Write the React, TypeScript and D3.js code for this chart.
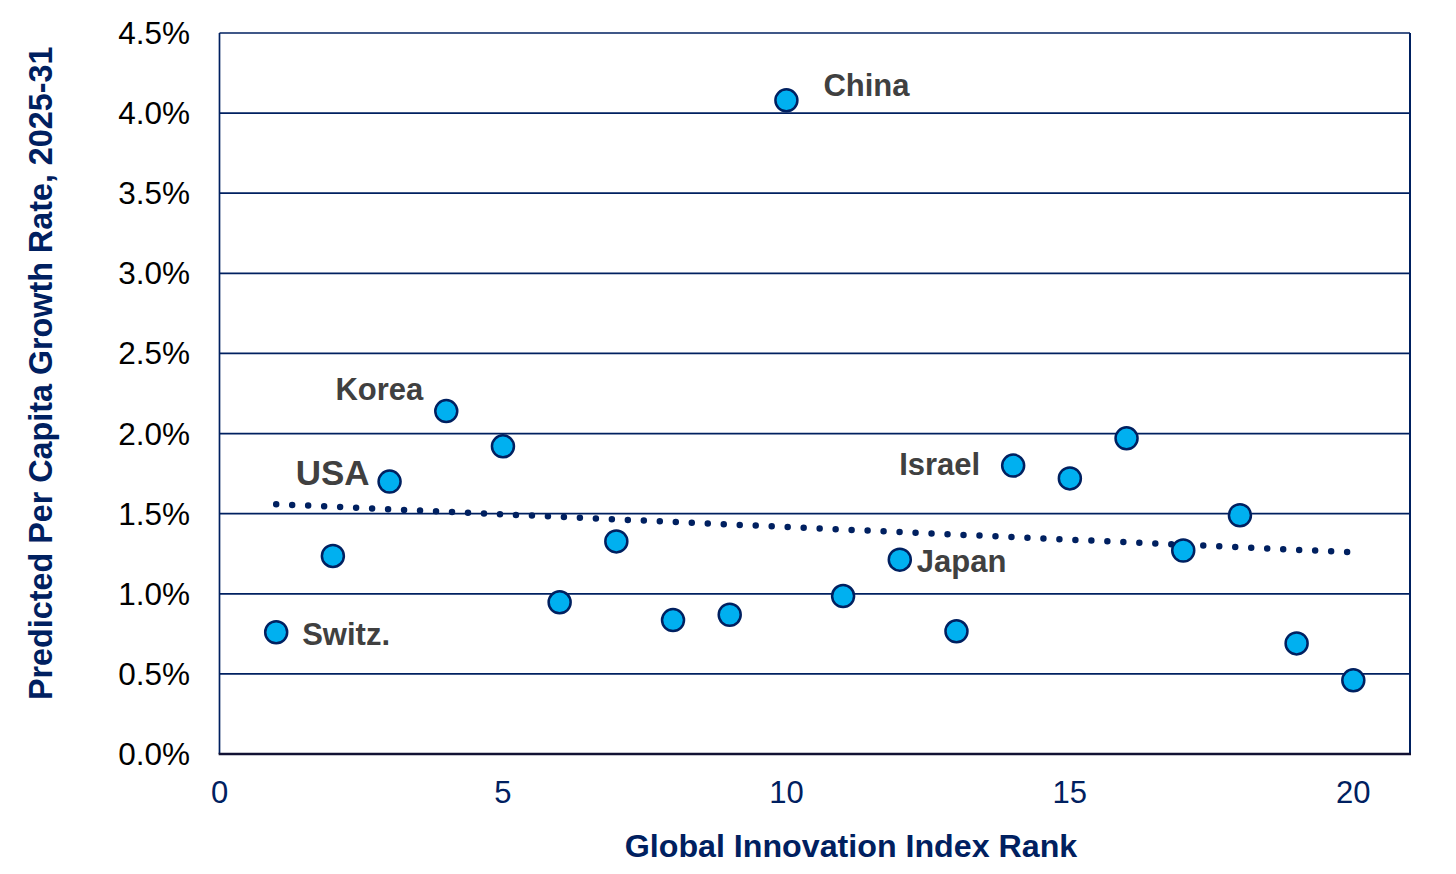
import { useEffect, useRef } from "react";
import * as d3 from "d3";

// GII rank (x) vs predicted per-capita growth, %
const ranks = [1, 2, 3, 4, 5, 6, 7, 8, 9, 10, 11, 12, 13, 14, 15, 16, 17, 18, 19, 20];
const growth = [0.76, 1.236, 1.70, 2.14, 1.92, 0.947, 1.327, 0.836, 0.869, 4.08, 0.986, 1.213, 0.766, 1.80, 1.72, 1.97, 1.27, 1.49, 0.69, 0.46];

const labelRanks = [1, 3, 4, 10, 12, 14];
const labelNames = ["Switz.", "USA", "Korea", "China", "Japan", "Israel"];

const yTicks = [0, 0.5, 1, 1.5, 2, 2.5, 3, 3.5, 4, 4.5];
const xTicks = [0, 5, 10, 15, 20];

const NAVY = "#002060";
const FILL = "#00B0F0";
const LABEL = "#404040";
const FONT = "Arial, 'Liberation Sans', sans-serif";

export default function App() {
  const svgRef = useRef<SVGSVGElement>(null);

  useEffect(() => {
    document.body.style.margin = "0";
    if (!svgRef.current) return;

    const width = 1456;
    const height = 874;
    const left = 219.5;
    const right = 1410;
    const top = 33;
    const bottom = 754;

    const svg = d3.select(svgRef.current);
    svg.selectAll("*").remove();

    const x = d3.scaleLinear().domain([0, 21]).range([left, right]);
    const y = d3.scaleLinear().domain([0, 4.5]).range([bottom, top]);

    svg.append("rect").attr("width", width).attr("height", height).attr("fill", "#fff");

    // gridlines
    svg.append("g")
      .selectAll("line")
      .data(yTicks.filter((t) => t > 0))
      .join("line")
      .attr("x1", left)
      .attr("x2", right)
      .attr("y1", (d) => y(d))
      .attr("y2", (d) => y(d))
      .attr("stroke", NAVY)
      .attr("stroke-width", 1.7);

    // left + right frame
    svg.append("line").attr("x1", left).attr("x2", left).attr("y1", top).attr("y2", bottom)
      .attr("stroke", NAVY).attr("stroke-width", 1.7);
    svg.append("line").attr("x1", right).attr("x2", right).attr("y1", top).attr("y2", bottom)
      .attr("stroke", NAVY).attr("stroke-width", 2);
    // x axis baseline
    svg.append("line").attr("x1", left - 0.85).attr("x2", right + 1).attr("y1", bottom).attr("y2", bottom)
      .attr("stroke", "#111133").attr("stroke-width", 2.5);

    // y tick labels
    svg.append("g")
      .selectAll("text")
      .data(yTicks)
      .join("text")
      .attr("x", 190)
      .attr("y", (d) => y(d))
      .attr("dy", "0.35em")
      .attr("text-anchor", "end")
      .attr("font-family", FONT)
      .attr("font-size", 31.5)
      .attr("fill", "#000")
      .text((d) => `${d.toFixed(1)}%`);

    // x tick labels
    svg.append("g")
      .selectAll("text")
      .data(xTicks)
      .join("text")
      .attr("x", (d) => x(d))
      .attr("y", 803)
      .attr("text-anchor", "middle")
      .attr("font-family", FONT)
      .attr("font-size", 31)
      .attr("fill", NAVY)
      .text((d) => d);

    // axis titles
    svg.append("text")
      .attr("x", 851)
      .attr("y", 857)
      .attr("text-anchor", "middle")
      .attr("font-family", FONT)
      .attr("font-size", 32.2)
      .attr("font-weight", "bold")
      .attr("fill", NAVY)
      .text("Global Innovation Index Rank");

    svg.append("text")
      .attr("transform", "translate(52,700) rotate(-90)")
      .attr("text-anchor", "start")
      .attr("font-family", FONT)
      .attr("font-size", 32.3)
      .attr("font-weight", "bold")
      .attr("fill", NAVY)
      .text("Predicted Per Capita Growth Rate, 2025-31");

    // linear trendline (least squares)
    const mx = d3.mean(ranks)!;
    const my = d3.mean(growth)!;
    const sxy = d3.sum(ranks, (r, i) => (r - mx) * (growth[i] - my));
    const sxx = d3.sum(ranks, (r) => (r - mx) ** 2);
    const slope = sxy / sxx;
    const icpt = my - slope * mx;
    const x0 = d3.min(ranks)!;
    const x1 = d3.max(ranks)!;
    svg.append("path")
      .attr("d", d3.line<number>().x((d) => x(d)).y((d) => y(icpt + slope * d))([x0, x1]))
      .attr("fill", "none")
      .attr("stroke", NAVY)
      .attr("stroke-width", 6.5)
      .attr("stroke-linecap", "round")
      .attr("stroke-dasharray", "0 16");

    // points
    svg.append("g")
      .selectAll("circle")
      .data(ranks)
      .join("circle")
      .attr("cx", (d) => x(d))
      .attr("cy", (_d, i) => y(growth[i]))
      .attr("r", 11)
      .attr("fill", FILL)
      .attr("stroke", NAVY)
      .attr("stroke-width", 2.5);

    // country labels
    const offsets: Record<string, { dx: number; dy: number; anchor: string; size: number }> = {
      "Switz.": { dx: 26, dy: 13, anchor: "start", size: 31 },
      USA: { dx: -20, dy: 3, anchor: "end", size: 35 },
      Korea: { dx: -23, dy: -11, anchor: "end", size: 31 },
      China: { dx: 37, dy: -4, anchor: "start", size: 31 },
      Japan: { dx: 17, dy: 12, anchor: "start", size: 31 },
      Israel: { dx: -33, dy: 9, anchor: "end", size: 31 },
    };
    labelRanks.forEach((r, i) => {
      const name = labelNames[i];
      const o = offsets[name];
      const idx = ranks.indexOf(r);
      svg.append("text")
        .attr("x", x(r) + o.dx)
        .attr("y", y(growth[idx]) + o.dy)
        .attr("text-anchor", o.anchor)
        .attr("font-family", FONT)
        .attr("font-size", o.size)
        .attr("font-weight", "bold")
        .attr("fill", LABEL)
        .text(name);
    });
  }, []);

  return <svg ref={svgRef} width={1456} height={874} style={{ display: "block" }} />;
}
